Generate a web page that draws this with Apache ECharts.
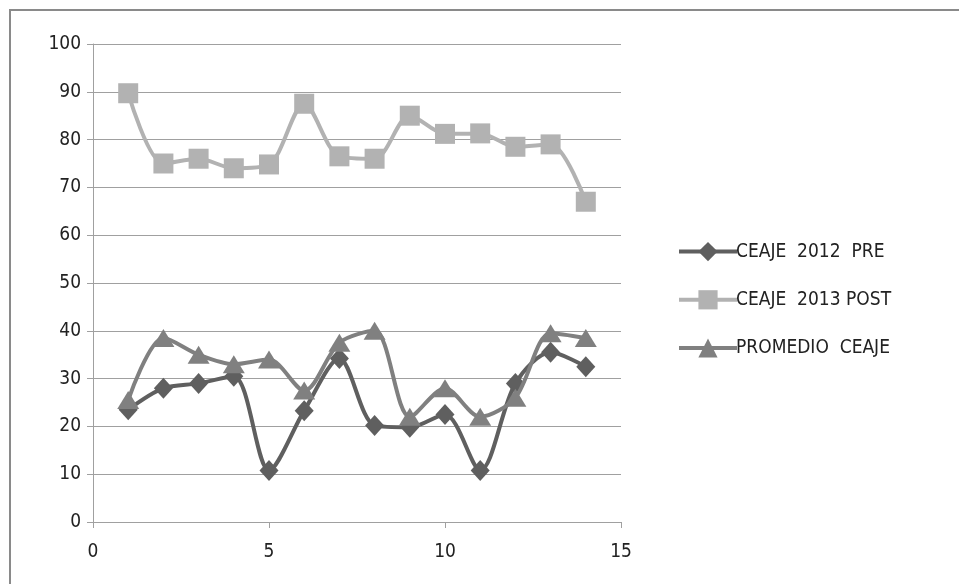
<!DOCTYPE html>
<html><head><meta charset="utf-8">
<script src="https://cdn.jsdelivr.net/npm/echarts@6/dist/echarts.min.js"></script>
<style>html,body{margin:0;padding:0;background:#fff}#c{width:959px;height:584px}</style>
</head><body><div id="c"></div>
<script>
const xValues = [1,2,3,4,5,6,7,8,9,10,11,12,13,14];
const pre = [23.5,28,29,30.5,10.8,23.3,34.2,20.2,19.8,22.5,10.8,29,35.5,32.5];
const post = [89.7,75,76,74,74.8,87.5,76.5,76,85,81.2,81.3,78.5,79,67];
const promedio = [25.5,38.5,35,33,34,27.5,37.5,40,22,28,22,26,39.5,38.5];
const seriesNames = ['CEAJE  2012  PRE','CEAJE  2013 POST','PROMEDIO  CEAJE'];
const xTicks = [0,5,10,15];
const yTicks = [0,10,20,30,40,50,60,70,80,90,100];

const font = "'DejaVu Sans Condensed','Liberation Sans Narrow','Liberation Sans',sans-serif";
const pair = arr => xValues.map((x,i)=>[x,arr[i]]);
const chart = echarts.init(document.getElementById('c'), null, {renderer:'canvas'});
chart.setOption({
  animation:false,
  backgroundColor:'#fff',
  graphic:[{type:'rect',shape:{x:10,y:10,width:1000,height:700},style:{fill:'none',stroke:'#8a8a8a',lineWidth:2}}],
  grid:{left:93,right:338,top:44,bottom:62},
  xAxis:{type:'value',min:xTicks[0],max:xTicks[xTicks.length-1],interval:5,
    axisLine:{lineStyle:{color:'#a0a0a0',width:1}},
    axisTick:{show:true,length:6,lineStyle:{color:'#a0a0a0'}},
    splitLine:{show:false},
    axisLabel:{color:'#222',fontSize:19,fontFamily:font,margin:21}},
  yAxis:{type:'value',min:yTicks[0],max:yTicks[yTicks.length-1],interval:10,
    axisLine:{show:true,lineStyle:{color:'#a0a0a0',width:1}},
    axisTick:{show:true,length:6,lineStyle:{color:'#a0a0a0'}},
    splitLine:{lineStyle:{color:'#a0a0a0',width:1}},
    axisLabel:{color:'#222',fontSize:19,fontFamily:font,margin:12}},
  legend:{orient:'vertical',left:672,top:237,itemWidth:58,itemHeight:24,itemGap:29,
    lineStyle:{width:4},
    textStyle:{fontSize:19,fontFamily:font,color:'#222',padding:[0,0,0,-6]},
    data:seriesNames},
  series:[
    {name:seriesNames[0],type:'line',data:pair(pre),smooth:0.3,symbol:'diamond',symbolSize:[19,21],
      lineStyle:{color:'#5f5f5f',width:4},itemStyle:{color:'#5f5f5f'},z:3},
    {name:seriesNames[1],type:'line',data:pair(post),smooth:0.3,symbol:'rect',symbolSize:20,
      lineStyle:{color:'#b2b2b2',width:4},itemStyle:{color:'#b2b2b2'},z:2},
    {name:seriesNames[2],type:'line',data:pair(promedio),smooth:0.3,symbol:'triangle',symbolSize:[22,18],
      lineStyle:{color:'#808080',width:4},itemStyle:{color:'#808080'},z:4}
  ]
});
</script></body></html>
